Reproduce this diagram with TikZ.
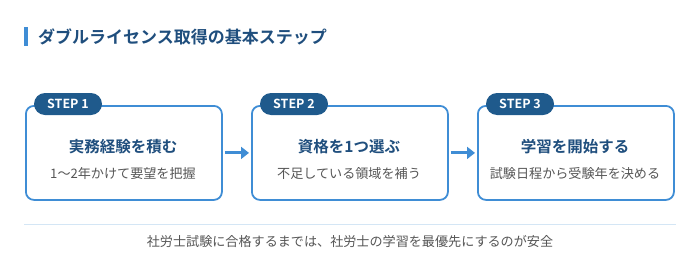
\documentclass[tikz,border=0pt]{standalone}
\usepackage{fontspec}
\setmainfont{Noto Sans CJK JP}
\newfontfamily\jpbold{Noto Sans CJK JP Bold}
\usetikzlibrary{arrows.meta}
\definecolor{titleblue}{HTML}{1F4E7D}
\definecolor{pillblue}{HTML}{1F5A8C}
\definecolor{lineblue}{HTML}{3F8DD5}
\definecolor{sepblue}{HTML}{D4E6F5}
\definecolor{subgray}{HTML}{555555}
\begin{document}
\begin{tikzpicture}[x=1pt,y=-1pt,
  stepbox/.style={draw=lineblue,line width=1.8pt,rounded corners=8pt,minimum width=196pt,minimum height=94pt,anchor=north west,inner sep=0pt},
  pill/.style={fill=pillblue,rounded corners=11pt,minimum width=68pt,minimum height=22pt,inner sep=0pt,text=white,font=\jpbold\fontsize{12.5}{12.5}\selectfont},
  maintext/.style={text=titleblue,font=\jpbold\fontsize{15.5}{15.5}\selectfont,inner sep=0pt},
  subtext/.style={text=subgray,font=\fontsize{13.1}{13.1}\selectfont,inner sep=0pt},
  flow/.style={draw=lineblue,line width=3pt,-{Triangle[length=8pt,width=12pt]}}
]
\useasboundingbox (0,0) rectangle (700,252);
\fill[lineblue] (24,27) rectangle (28,46);
\node[anchor=west,inner sep=0pt,text=titleblue,font=\jpbold\fontsize{17}{17}\selectfont] (title) at (38,36.5) {ダブルライセンス取得の基本ステップ};
% boxes
\node[stepbox] (b1) at (25,105) {};
\node[stepbox] (b2) at (251,105) {};
\node[stepbox] (b3) at (477,105) {};
% pills
\node[pill] (p1) at (68,104) {STEP 1};
\node[pill] (p2) at (294,104) {STEP 2};
\node[pill] (p3) at (520,104) {STEP 3};
% texts
\node[maintext] (m1) at (123,147) {実務経験を積む};
\node[maintext] (m2) at (349,147) {資格を1つ選ぶ};
\node[maintext] (m3) at (575,147) {学習を開始する};
\node[subtext] (s1) at (123,174) {1〜2年かけて要望を把握};
\node[subtext] (s2) at (349,174) {不足している領域を補う};
\node[subtext] (s3) at (575,174) {試験日程から受験年を決める};
% arrows
\draw[flow] ([xshift=2pt]b1.east) -- ([xshift=-2pt]b2.west);
\draw[flow] ([xshift=2pt]b2.east) -- ([xshift=-2pt]b3.west);
% separator
\coordinate (sl) at (24,224);
\coordinate (sr) at (676,224);
\draw[sepblue,line width=1pt] (sl) -- (sr);
\node[subtext] (foot) at (350,242) {社労士試験に合格するまでは、社労士の学習を最優先にするのが安全};
\end{tikzpicture}
\end{document}
